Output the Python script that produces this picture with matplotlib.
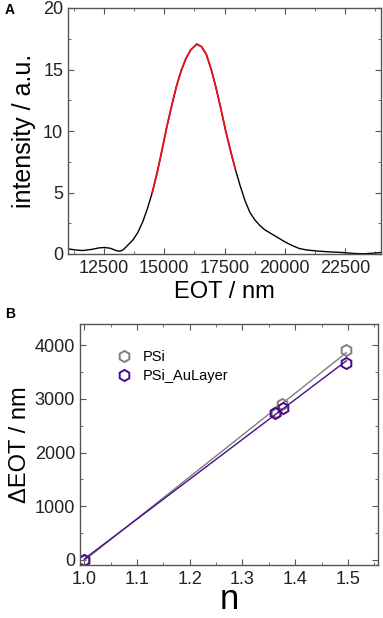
import numpy as np
import matplotlib
import matplotlib.pyplot as plt
from matplotlib.ticker import MultipleLocator

matplotlib.use("Agg")

plt.rcParams["font.family"] = ["Liberation Sans", "DejaVu Sans"]

# panel A: spectrum
eot = [11000, 11300, 11600, 12000, 12300, 12500, 12750, 13000, 13150, 13300,
       13500, 13700, 13900, 14100, 14300, 14500, 14700, 14900, 15100, 15300,
       15500, 15700, 15900, 16100, 16350, 16550, 16750, 16950, 17150, 17350,
       17550, 17750, 17950, 18150, 18350, 18550, 18750, 18950, 19150, 19400,
       19700, 20000, 20300, 20600, 20900, 21300, 21800, 22400, 22900, 23300,
       23700, 24000]
intensity = [0.42, 0.33, 0.28, 0.38, 0.50, 0.53, 0.47, 0.28, 0.22, 0.35,
             0.75, 1.15, 1.75, 2.6, 3.7, 5.0, 6.6, 8.4, 10.3, 12.0,
             13.6, 14.9, 15.9, 16.6, 17.07, 16.85, 16.2, 15.0, 13.5, 11.8,
             10.0, 8.4, 6.9, 5.55, 4.35, 3.4, 2.8, 2.35, 2.0, 1.7,
             1.35, 1.0, 0.7, 0.45, 0.33, 0.25, 0.18, 0.12, 0.04, 0.02,
             0.07, 0.12]
red_range = (14500, 18000)

# panel B: EOT shift vs refractive index
n_psi = [1.0, 1.363, 1.375, 1.497]
d_psi = [0, 2760, 2910, 3910]
n_au = [1.0, 1.362, 1.377, 1.497]
d_au = [0, 2740, 2830, 3680]

fig = plt.figure(figsize=(3.83, 6.18), dpi=100)
W, H = 383, 618

frame_col = "#555555"


def style(ax):
    for s in ax.spines.values():
        s.set_color(frame_col)
        s.set_linewidth(1.0)
    ax.tick_params(which="both", direction="in", top=True, right=True,
                   color=frame_col, labelsize=13, labelcolor="#222222")
    ax.tick_params(which="major", length=4)
    ax.tick_params(which="minor", length=2.5)
    ax.tick_params(axis="x", pad=4)


# panel A
axA = fig.add_axes([68 / W, 1 - 254 / H, (381 - 68) / W, (254 - 8) / H])
x = np.array(eot)
y = np.array(intensity)
axA.plot(x, y, color="black", lw=1.0)
m = (x >= red_range[0]) & (x <= red_range[1])
axA.plot(x[m], y[m], color="#e8141c", lw=1.3)
axA.set_xlim(11000, 24000)
axA.set_ylim(0, 20)
axA.xaxis.set_major_locator(MultipleLocator(2500))
axA.xaxis.set_minor_locator(MultipleLocator(1250))
axA.yaxis.set_major_locator(MultipleLocator(5))
axA.yaxis.set_minor_locator(MultipleLocator(2.5))
style(axA)
axA.set_xlabel("EOT / nm", fontsize=17, labelpad=3)
axA.set_ylabel("intensity / a.u.", fontsize=18, labelpad=5)
fig.text(5 / W, 1 - 10 / H, "A", fontsize=10, fontweight="bold", va="center")

# panel B
axB = fig.add_axes([80 / W, 1 - 565 / H, (378 - 80) / W, (565 - 324) / H])
for nn, dd, col, lab in [(n_psi, d_psi, "#7f7f7f", "PSi"),
                         (n_au, d_au, "#4b0a8c", "PSi_AuLayer")]:
    k, b = np.polyfit(nn, dd, 1)
    xs = np.array([min(nn), max(nn)])
    axB.plot(xs, k * xs + b, color=col, lw=1.0)
    axB.plot(nn, dd, "h", ms=8, mfc="none", mec=col, mew=1.4,
             ls="none", label=lab)
axB.set_xlim(0.992, 1.557)
axB.set_ylim(-100, 4400)
axB.xaxis.set_major_locator(MultipleLocator(0.1))
axB.xaxis.set_minor_locator(MultipleLocator(0.05))
axB.yaxis.set_major_locator(MultipleLocator(1000))
axB.yaxis.set_minor_locator(MultipleLocator(500))
style(axB)
axB.set_xlabel("n", fontsize=25, labelpad=-3)
axB.set_ylabel("\u0394EOT / nm", fontsize=17, labelpad=3)
axB.legend(loc="upper left", bbox_to_anchor=(0.08, 0.915), frameon=False,
           fontsize=10.5, handletextpad=0.3, labelspacing=0.3, borderaxespad=0)
fig.text(5 / W, 1 - 314 / H, "B", fontsize=10, fontweight="bold", va="center")

fig.savefig("out.png", dpi=100)
